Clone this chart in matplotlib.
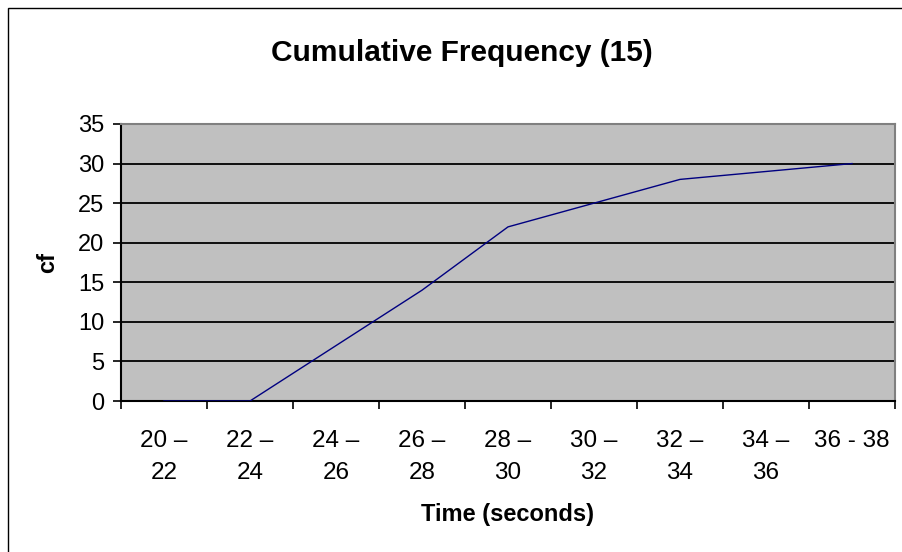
import matplotlib
matplotlib.use("Agg")
import matplotlib.pyplot as plt
from matplotlib.patches import Rectangle

# data
categories = ["20 –\n22", "22 –\n24", "24 –\n26", "26 –\n28", "28 –\n30",
              "30 –\n32", "32 –\n34", "34 –\n36", "36 - 38\n"]
cum_freq = [0, 0, 7, 14, 22, 25, 28, 29, 30]
y_ticks = [0, 5, 10, 15, 20, 25, 30, 35]

plt.rcParams["font.family"] = ["Liberation Sans", "DejaVu Sans"]

fig = plt.figure(figsize=(9.03, 5.52), dpi=100)
ax = fig.add_axes([121 / 903, 151 / 552, 774 / 903, 277 / 552])
ax.set_facecolor("#c0c0c0")

x = list(range(len(categories)))
ax.plot(x, cum_freq, color="#000080", linewidth=1.0, zorder=3)

ax.set_xlim(-0.5, len(categories) - 0.5)
ax.set_ylim(0, 35)
ax.set_yticks(y_ticks)
ax.set_yticklabels([str(v) for v in y_ticks], fontsize=17)
for v in y_ticks[1:-1]:
    ax.axhline(v, color="black", linewidth=1.3, zorder=1)

# major ticks at category boundaries, labels on minor ticks at centres
ax.set_xticks([i - 0.5 for i in range(len(categories) + 1)])
ax.set_xticklabels([])
ax.set_xticks(x, minor=True)
ax.set_xticklabels(categories, minor=True, fontsize=17.5, linespacing=1.55)
ax.tick_params(axis="x", which="minor", length=0, pad=21)
ax.tick_params(axis="x", which="major", length=6, width=1.2, direction="out")
ax.tick_params(axis="y", length=6, width=1.2, direction="out", pad=6)

for side in ["left", "bottom"]:
    ax.spines[side].set_color("black")
    ax.spines[side].set_linewidth(1.5)
for side in ["top", "right"]:
    ax.spines[side].set_color("#808080")
    ax.spines[side].set_linewidth(1.5)

ax.set_xlabel("Time (seconds)", fontsize=17, fontweight="bold", labelpad=14)
ax.set_ylabel("cf", fontsize=17, fontweight="bold", labelpad=14)
fig.text(462 / 903, 1 - 53 / 552, "Cumulative Frequency (15)", fontsize=21.5,
         fontweight="bold", ha="center", va="center")

# chart-area border
fig.patches.append(Rectangle((8 / 903, -0.05), 1.2, 1 - 8 / 552 + 0.05,
                             transform=fig.transFigure, fill=False,
                             edgecolor="black", linewidth=1.0))

fig.savefig("out.png", dpi=100)
